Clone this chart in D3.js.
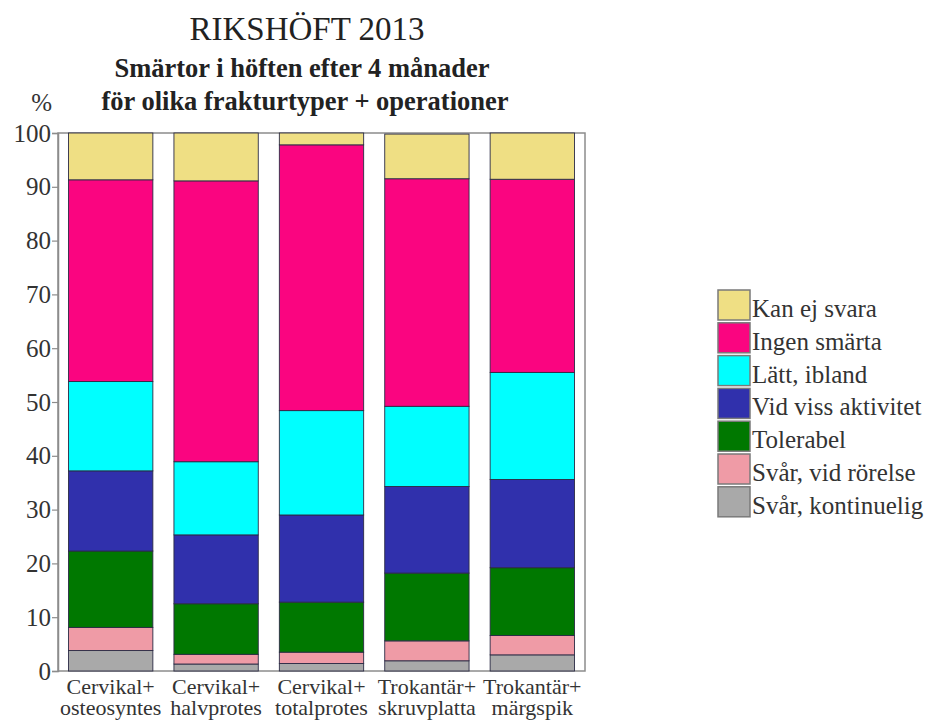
<!DOCTYPE html>
<html>
<head>
<meta charset="utf-8">
<script src="https://cdn.jsdelivr.net/npm/d3@7"></script>
<style>
  html, body { margin: 0; padding: 0; background: #fff; }
  svg { display: block; }
</style>
</head>
<body>
<svg id="chart" width="945" height="723"></svg>
<script>
// ---- Data ----
const categories = [
  ["Cervikal+", "osteosyntes"],
  ["Cervikal+", "halvprotes"],
  ["Cervikal+", "totalprotes"],
  ["Trokantär+", "skruvplatta"],
  ["Trokantär+", "märgspik"]
];
// series from bottom to top
const seriesNames = ["Svår, kontinuelig", "Svår, vid rörelse", "Tolerabel", "Vid viss aktivitet", "Lätt, ibland", "Ingen smärta", "Kan ej svara"];
const svarKontinuelig = [3.8, 1.3, 1.4, 1.9, 3.0];
const svarVidRorelse  = [4.3, 1.8, 2.1, 3.7, 3.6];
const tolerabel       = [14.2, 9.4, 9.3, 12.6, 12.6];
const vidVissAktivitet= [14.9, 12.8, 16.2, 16.1, 16.4];
const lattIbland      = [16.6, 13.6, 19.4, 14.9, 19.9];
const ingenSmarta     = [37.5, 52.2, 49.4, 42.3, 35.9];
const kanEjSvara      = [8.7, 8.9, 2.2, 8.3, 8.6];
const yTicks = [0, 10, 20, 30, 40, 50, 60, 70, 80, 90, 100];
const colors = ["#a9a9a9", "#ef9ba6", "#007800", "#3030ac", "#00ffff", "#fa0580", "#efdf84"];
const titleLines = ["RIKSHÖFT 2013", "Smärtor i höften efter 4 månader", "för olika frakturtyper + operationer"];

const seriesValues = [svarKontinuelig, svarVidRorelse, tolerabel, vidVissAktivitet, lattIbland, ingenSmarta, kanEjSvara];
const rows = categories.map((c, i) => {
  const r = { key: i };
  seriesNames.forEach((s, j) => r[s] = seriesValues[j][i]);
  return r;
});

const FONT = "'Liberation Serif', 'Times New Roman', Times, serif";
const svg = d3.select("#chart");
const plot = { left: 58, right: 585, top: 133, bottom: 671 };

const x = d3.scaleBand().domain(d3.range(categories.length))
  .range([plot.left, plot.right]).paddingInner(0.2).paddingOuter(0.1);
const y = d3.scaleLinear().domain([0, 100]).range([plot.bottom, plot.top]);
const color = d3.scaleOrdinal().domain(seriesNames).range(colors);

const stack = d3.stack().keys(seriesNames)(rows);

// frame
svg.append("rect")
  .attr("x", plot.left).attr("y", plot.top)
  .attr("width", plot.right - plot.left).attr("height", plot.bottom - plot.top)
  .attr("fill", "#fff").attr("stroke", "#8c8c8c").attr("stroke-width", 1.5);

// bars
svg.append("g").selectAll("g").data(stack).join("g")
  .attr("fill", d => color(d.key))
  .selectAll("rect").data(d => d).join("rect")
  .attr("x", d => x(d.data.key))
  .attr("width", x.bandwidth())
  .attr("y", d => y(d[1]))
  .attr("height", d => y(d[0]) - y(d[1]))
  .attr("stroke", "#2b2b45").attr("stroke-width", 0.9);

// y axis
const yAxis = svg.append("g").attr("transform", `translate(${plot.left},0)`)
  .call(d3.axisLeft(y).tickValues(yTicks).tickSize(6).tickPadding(1).tickFormat(d3.format("d")));
yAxis.select(".domain").attr("stroke", "#8c8c8c").attr("stroke-width", 1.5);
yAxis.selectAll(".tick line").attr("stroke", "#8c8c8c").attr("stroke-width", 1.2);
yAxis.selectAll(".tick text").attr("font-size", 25).attr("fill", "#333");

// "%"
svg.append("text").attr("x", 52).attr("y", 111).attr("text-anchor", "end")
  .attr("font-size", 25).attr("fill", "#333").text("%");

// x labels
const xl = svg.append("g").selectAll("text").data(categories).join("text")
  .attr("text-anchor", "middle").attr("font-size", 22).attr("fill", "#333")
  .attr("x", (d, i) => x(i) + x.bandwidth() / 2);
xl.append("tspan").attr("x", (d, i) => x(i) + x.bandwidth() / 2).attr("y", 694).text(d => d[0]);
xl.append("tspan").attr("x", (d, i) => x(i) + x.bandwidth() / 2).attr("y", 715).text(d => d[1]);

// titles
svg.append("text").attr("x", 307).attr("y", 40).attr("text-anchor", "middle")
  .attr("font-size", 33).attr("fill", "#222").text(titleLines[0]);
svg.append("text").attr("x", 302).attr("y", 77).attr("text-anchor", "middle")
  .attr("font-size", 26.5).attr("font-weight", "bold").attr("fill", "#222").text(titleLines[1]);
svg.append("text").attr("x", 305).attr("y", 110).attr("text-anchor", "middle")
  .attr("font-size", 26.5).attr("font-weight", "bold").attr("fill", "#222").text(titleLines[2]);

// legend (top = Kan ej svara)
const legendItems = seriesNames.slice().reverse();
const lg = svg.append("g").selectAll("g").data(legendItems).join("g")
  .attr("transform", (d, i) => `translate(718, ${290 + i * 32.8})`);
lg.append("rect").attr("width", 32).attr("height", 30)
  .attr("fill", d => color(d)).attr("stroke", "#7a7a7a").attr("stroke-width", 1.5);
lg.append("text").attr("x", 34).attr("y", 27).attr("font-size", 25).attr("fill", "#333").text(d => d);

// force serif font on all texts
svg.selectAll("text").style("font-family", FONT);
svg.selectAll("g").attr("font-family", null);
</script>
</body>
</html>
